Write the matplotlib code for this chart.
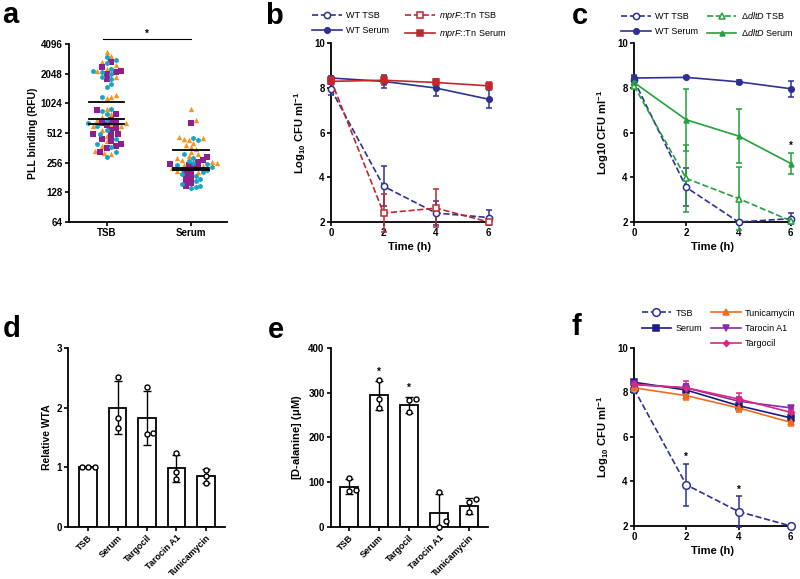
import numpy as np
import matplotlib
matplotlib.use("Agg")
from matplotlib import pyplot as plt
from matplotlib.lines import Line2D

plt.rcParams['font.family'] = ['Liberation Sans', 'DejaVu Sans']
plt.rcParams['font.weight'] = 'bold'
plt.rcParams['mathtext.fontset'] = 'custom'
plt.rcParams['mathtext.rm'] = 'Liberation Sans:weight=bold'
plt.rcParams['mathtext.it'] = 'Liberation Sans:style=italic:weight=normal'
plt.rcParams['mathtext.bf'] = 'Liberation Sans:weight=bold'
plt.rcParams['axes.linewidth'] = 1.3
plt.rcParams['xtick.major.width'] = 1.2
plt.rcParams['ytick.major.width'] = 1.2
plt.rcParams['xtick.major.size'] = 3
plt.rcParams['ytick.major.size'] = 3

# ---------------- data ----------------
# panel a: PLL binding (RFU), three replicates per condition
a_groups = ["TSB", "Serum"]
tsb_orange = [3400, 3100, 2700, 2500, 2300, 2200, 1900, 1250, 1200, 1150, 900, 800,
              750, 700, 650, 620, 600, 550, 480, 420, 380, 340, 320, 310, 600]
tsb_purple = [2700, 2400, 2200, 2150, 2050, 1800, 870, 800, 700, 650, 640, 620,
              580, 550, 500, 480, 450, 420, 400, 380, 360, 330, 500]
tsb_teal = [3000, 2800, 2600, 2300, 2200, 2150, 2050, 1900, 1800, 1600, 1500, 1200,
            900, 850, 800, 700, 650, 600, 550, 500, 450, 400, 370, 330, 290]
ser_orange = [900, 700, 470, 460, 450, 430, 410, 390, 370, 350, 330, 310, 300, 285,
              270, 262, 255, 245, 235, 225, 212, 205]
ser_purple = [650, 290, 275, 262, 250, 240, 232, 226, 218, 205, 192, 180, 168, 158, 148]
ser_teal = [460, 430, 310, 285, 268, 255, 248, 240, 232, 222, 214, 206, 196, 186,
            176, 166, 156, 150, 144, 140]
tsb_means = [1050, 715, 625]
ser_means = [345, 228, 218]

# panels b, c, f: time course
time_h = [0, 2, 4, 6]
b_wt_tsb = [7.95, 3.6, 2.4, 2.2]
b_wt_tsb_err = [0.25, 0.9, 0.55, 0.35]
b_wt_ser = [8.45, 8.3, 8.0, 7.5]
b_wt_ser_err = [0.1, 0.3, 0.35, 0.4]
b_mprf_tsb = [8.35, 2.4, 2.62, 2.0]
b_mprf_tsb_err = [0.1, 0.85, 0.85, 0.0]
b_mprf_ser = [8.3, 8.35, 8.25, 8.1]
b_mprf_ser_err = [0.1, 0.2, 0.15, 0.15]

c_wt_tsb = [8.35, 3.55, 2.0, 2.15]
c_wt_tsb_err = [0.2, 0.85, 0.0, 0.25]
c_wt_ser = [8.45, 8.48, 8.28, 7.97]
c_wt_ser_err = [0.15, 0.05, 0.1, 0.35]
c_dlt_tsb = [8.1, 3.95, 3.05, 2.05]
c_dlt_tsb_err = [0.1, 1.5, 1.4, 0.0]
c_dlt_ser = [8.25, 6.58, 5.85, 4.62]
c_dlt_ser_err = [0.1, 1.38, 1.22, 0.47]

f_tsb = [8.15, 3.85, 2.65, 2.0]
f_tsb_err = [0.2, 0.95, 0.7, 0.0]
f_ser = [8.45, 8.1, 7.4, 6.85]
f_ser_err = [0.1, 0.25, 0.2, 0.2]
f_tuni = [8.2, 7.85, 7.3, 6.65]
f_tuni_err = [0.1, 0.2, 0.2, 0.15]
f_taro = [8.35, 8.2, 7.6, 7.3]
f_taro_err = [0.1, 0.15, 0.2, 0.1]
f_targ = [8.35, 8.2, 7.7, 7.1]
f_targ_err = [0.1, 0.3, 0.25, 0.2]

# panels d, e: bars
conds = ["TSB", "Serum", "Targocil", "Tarocin A1", "Tunicamycin"]
d_mean = [1.0, 2.0, 1.82, 0.98, 0.85]
d_err = [0.0, 0.45, 0.45, 0.23, 0.12]
d_pts = [[1.0, 1.0, 1.0], [2.52, 1.83, 1.66], [2.35, 1.55, 1.58],
         [1.24, 0.92, 0.8], [0.96, 0.85, 0.74]]
e_mean = [90, 294, 272, 30, 47]
e_err = [17, 32, 18, 44, 18]
e_pts = [[108, 80, 82], [328, 285, 265], [285, 283, 256], [78, 12, 0], [62, 55, 32]]

BLUE = '#2E3192'
RED = '#C1272D'
GREEN = '#23A13A'
ORANGE = '#F7931E'
PURPLE = '#8E1F8E'
TEAL = '#1CA3C4'

fig = plt.figure(figsize=(8, 5.79), dpi=100)

def style(ax):
    ax.spines['top'].set_visible(False)
    ax.spines['right'].set_visible(False)
    ax.tick_params(labelsize=7, pad=1.5)
    for lab in ax.get_xticklabels() + ax.get_yticklabels():
        lab.set_fontweight('bold')

def swarm(ax, xc, vals, d):
    # beeswarm in display pixels: place each point as close to the centre as it fits
    tr = ax.transData
    x0 = tr.transform((xc, 1))[0]
    ypix = [tr.transform((xc, v))[1] for v in vals]
    order = np.argsort(ypix)
    placed = []
    xs = np.zeros(len(vals))
    for i in order:
        y = ypix[i]
        k = 0
        while True:
            cands = [0.0] if k == 0 else [k * d * 0.5, -k * d * 0.5]
            hit = None
            for cx in cands:
                if all((cx - px) ** 2 + (y - py) ** 2 >= d ** 2 for px, py in placed):
                    hit = cx
                    break
            if hit is not None:
                placed.append((hit, y))
                xs[i] = tr.inverted().transform((x0 + hit, y))[0]
                break
            k += 1
    return xs

# ---------------- panel a ----------------
ax = fig.add_axes([0.086, 0.6166, 0.198, 0.3074])
ax.set_yscale('log', base=2)
ax.set_ylim(64, 4096)
ax.set_xlim(-0.45, 1.43)
ax.set_yticks([64, 128, 256, 512, 1024, 2048, 4096])
ax.set_yticklabels(['64', '128', '256', '512', '1024', '2048', '4096'])
ax.set_xticks([0, 1])
ax.set_xticklabels(a_groups)
for gi, (o, p, t) in enumerate([(tsb_orange, tsb_purple, tsb_teal),
                                 (ser_orange, ser_purple, ser_teal)]):
    vals = np.array(o + p + t, dtype=float)
    cols = [ORANGE] * len(o) + [PURPLE] * len(p) + [TEAL] * len(t)
    mks = ['^'] * len(o) + ['s'] * len(p) + ['h'] * len(t)
    xs = swarm(ax, gi, vals, 4.7)
    for x, v, c, m in zip(xs, vals, cols, mks):
        ax.scatter(x, v, s=15, marker=m, color=c, linewidths=0, zorder=2)
for gi, means in enumerate([tsb_means, ser_means]):
    for mv in means:
        ax.plot([gi - 0.21, gi + 0.21], [mv, mv], color='black', lw=1.3, zorder=3)
ax.set_ylabel('PLL binding (RFU)', fontsize=7.5, fontweight='bold', labelpad=2)
ax.plot([-0.04, 1.0], [4580, 4580], color='black', lw=0.8, clip_on=False)
ax.text(0.48, 4650, '*', ha='center', va='bottom', fontsize=7)
style(ax)

# ---------------- time-course helpers ----------------
def tc_axes(rect, ylabel):
    ax = fig.add_axes(rect)
    ax.set_xlim(0, 6)
    ax.set_ylim(2, 10)
    ax.set_xticks([0, 2, 4, 6])
    ax.set_yticks([2, 4, 6, 8, 10])
    ax.set_xlabel('Time (h)', fontsize=8, fontweight='bold', labelpad=3)
    ax.set_ylabel(ylabel, fontsize=8, fontweight='bold', labelpad=4)
    style(ax)
    return ax

def series(ax, y, err, color, marker, ls, filled, ms=4.5):
    ax.errorbar(time_h, y, yerr=err, color=color, ls=ls, lw=1.2, marker=marker, ms=ms,
                mfc=color if filled else 'white', mec=color, mew=1.1,
                capsize=2.5, elinewidth=1.1, capthick=1.1, clip_on=False, zorder=3)
    return Line2D([], [], color=color, ls=ls, lw=1.2, marker=marker, ms=ms,
                  mfc=color if filled else 'white', mec=color, mew=1.1)

leg_kw = dict(loc='upper left', ncol=2, frameon=False, prop={'size': 6.5, 'weight': 'normal'},
              handlelength=3.3, handletextpad=0.45, labelspacing=0.68,
              borderpad=0, borderaxespad=0)
log_lab = r'Log$_{10}$ CFU ml$^{-1}$'

# ---------------- panel b ----------------
ax = tc_axes([0.4138, 0.6166, 0.197, 0.3084], log_lab)
h1 = series(ax, b_wt_tsb, b_wt_tsb_err, BLUE, 'o', '--', False)
h2 = series(ax, b_wt_ser, b_wt_ser_err, BLUE, 'o', '-', True, 4)
h3 = series(ax, b_mprf_tsb, b_mprf_tsb_err, RED, 's', '--', False)
h4 = series(ax, b_mprf_ser, b_mprf_ser_err, RED, 's', '-', True, 4)
fig.legend([h1, h2, h3, h4],
           ['WT TSB', 'WT Serum', r'$\mathit{mprF}$::Tn TSB', r'$\mathit{mprF}$::Tn Serum'],
           bbox_to_anchor=(0.39, 0.983), columnspacing=1.8, **leg_kw)

# ---------------- panel c ----------------
ax = tc_axes([0.7925, 0.6166, 0.196, 0.3084], r'Log10 CFU ml$^{-1}$')
h1 = series(ax, c_wt_tsb, c_wt_tsb_err, BLUE, 'o', '--', False)
h2 = series(ax, c_wt_ser, c_wt_ser_err, BLUE, 'o', '-', True, 4)
h3 = series(ax, c_dlt_tsb, c_dlt_tsb_err, GREEN, '^', '--', False, 4)
h4 = series(ax, c_dlt_ser, c_dlt_ser_err, GREEN, '^', '-', True, 3.5)
ax.text(6, c_dlt_ser[3] + c_dlt_ser_err[3] + 0.08, '*', ha='center', va='bottom', fontsize=7)
fig.legend([h1, h2, h3, h4],
           ['WT TSB', 'WT Serum', '\u0394$\\mathit{dltD}$ TSB', '\u0394$\\mathit{dltD}$ Serum'],
           bbox_to_anchor=(0.776, 0.983), columnspacing=1.0, **leg_kw)

# ---------------- bar panels ----------------
def bar_axes(rect, means, errs, pts, ylim, yticks, ylabel, xlim, lab_fs):
    ax = fig.add_axes(rect)
    x = np.arange(len(conds))
    ax.set_ylim(*ylim)
    ax.set_xlim(*xlim)
    ax.bar(x, means, width=0.6, color='white', edgecolor='black', lw=1.3, zorder=2)
    ax.errorbar(x, means, yerr=errs, fmt='none', ecolor='black', elinewidth=1.0,
                capsize=3.2, capthick=1.0, zorder=3)
    for xi, p in zip(x, pts):
        xs = swarm(ax, xi, p, 6.5)
        ax.scatter(xs, p, s=13, facecolor='white', edgecolor='black',
                   linewidths=1.0, zorder=4, clip_on=False)
    ax.set_yticks(yticks)
    ax.set_xticks(x)
    ax.set_xticklabels(conds, rotation=45, ha='right', rotation_mode='anchor')
    style(ax)
    ax.tick_params(axis='x', labelsize=6.5)
    ax.set_ylabel(ylabel, fontsize=lab_fs, fontweight='bold', labelpad=3)
    return ax

# ---------------- panel d ----------------
bar_axes([0.085, 0.0903, 0.196, 0.3087], d_mean, d_err, d_pts, (0, 3), [0, 1, 2, 3],
         'Relative WTA', (-0.68, 4.64), 7.5)

# ---------------- panel e ----------------
ax = bar_axes([0.4134, 0.0903, 0.1966, 0.3087], e_mean, e_err, e_pts, (0, 400),
              [0, 100, 200, 300, 400], r'[D-alanine] ($\mathbf{\mu}$M)', (-0.61, 4.63), 8)
for xi in [1, 2]:
    ax.text(xi, e_mean[xi] + e_err[xi] + 9, '*', ha='center', va='bottom', fontsize=7)

# ---------------- panel f ----------------
ax = tc_axes([0.7925, 0.0915, 0.196, 0.308], log_lab)
h1 = series(ax, f_tsb, f_tsb_err, BLUE, 'o', '--', False, 5.5)
h2 = series(ax, f_ser, f_ser_err, '#1B1B85', 's', '-', True, 4.5)
h3 = series(ax, f_tuni, f_tuni_err, '#F26B1D', '^', '-', True, 4)
h4 = series(ax, f_taro, f_taro_err, '#8A2BB0', 'v', '-', True, 4)
h5 = series(ax, f_targ, f_targ_err, '#D62A7E', 'D', '-', True, 3)
for i in [1, 2]:
    ax.text(time_h[i], f_tsb[i] + f_tsb_err[i] + 0.06, '*', ha='center', va='bottom', fontsize=7)
blank = Line2D([], [], color='none')
fig.legend([h1, h2, blank, h3, h4, h5],
           ['TSB', 'Serum', '', 'Tunicamycin', 'Tarocin A1', 'Targocil'],
           bbox_to_anchor=(0.802, 0.467), columnspacing=1.0, **leg_kw)

# ---------------- panel letters ----------------
for x, y, s in [(0.003, 0.960, 'a'), (0.331, 0.9585, 'b'), (0.715, 0.9585, 'c'),
                (0.003, 0.4185, 'd'), (0.335, 0.416, 'e'), (0.715, 0.421, 'f')]:
    fig.text(x, y, s, fontsize=21, fontweight='bold', va='baseline')

fig.savefig('out.png', dpi=100)
